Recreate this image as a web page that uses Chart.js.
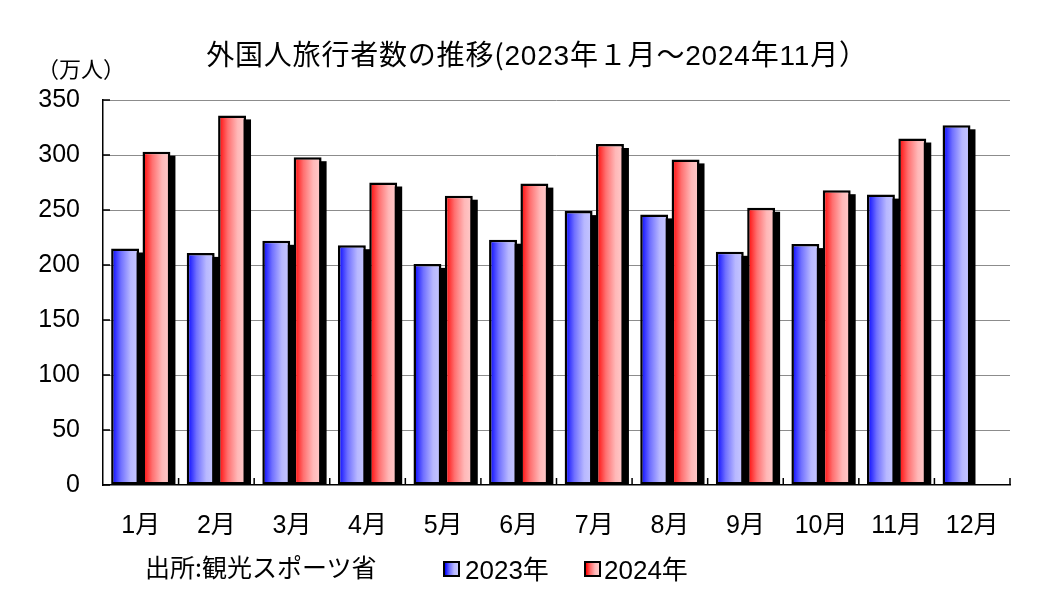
<!DOCTYPE html>
<html lang="ja">
<head>
<meta charset="utf-8">
<script src="https://cdn.jsdelivr.net/npm/chart.js@4.4.1/dist/chart.umd.min.js"></script>
<style>
  body { margin: 0; background: #fff; }
  #wrap { position: relative; width: 1054px; height: 614px; }
  #grafico { position: absolute; left: 0; top: 0; }
  .txt { position: absolute; font-family: "Noto Sans CJK JP", sans-serif; color: #000; white-space: nowrap; line-height: 1; }
  .num { font-family: "Liberation Sans Narrow", "Liberation Sans", sans-serif; }
  .caja { position: absolute; width: 13px; height: 12px; border: 2px solid #000; }
</style>
</head>
<body>
<div id="wrap">
  <canvas id="grafico" width="1054" height="614"></canvas>
  <div class="txt" id="titulo" style="left:537px; top:39px; font-size:28px; letter-spacing:0.8px; transform:translateX(-50%);">外国人旅行者数の推移(<span class="num">2023</span>年１月～<span class="num">2024</span>年<span class="num">11</span>月）</div>
  <div class="txt" style="left:37px; top:56px; font-size:22px;">（万人）</div>
  <div class="txt" style="left:145px; top:554px; font-size:25px;">出所:観光スポーツ省</div>
  <div class="caja" style="left:443px; top:561px; background:linear-gradient(to right, #0000ff, #7070ff 35%, #b8b8ff 70%, #c8c8ff);"></div>
  <div class="txt" style="left:465px; top:555px; font-size:26px;"><span class="num">2023</span>年</div>
  <div class="caja" style="left:584px; top:561px; background:linear-gradient(to right, #ff0000, #ff7070 35%, #ffb8b8 70%, #ffcccc);"></div>
  <div class="txt" style="left:604px; top:555px; font-size:26px;"><span class="num">2024</span>年</div>
</div>
<script>
// Datos (万人)
const meses = ['1月', '2月', '3月', '4月', '5月', '6月', '7月', '8月', '9月', '10月', '11月', '12月'];
const visitantes2023 = [215, 211, 222, 218, 201, 223, 249, 246, 212, 219, 264, 327];
const visitantes2024 = [303, 336, 298, 275, 263, 274, 310, 296, 252, 268, 315, null];
const ejeYMax = 350;
const ejeYPaso = 50;

// Degradados horizontales de cada serie
const degradados = [
    [[0, '#0000ff'], [0.35, '#7070ff'], [0.7, '#b8b8ff'], [1, '#c8c8ff']],
    [[0, '#ff0000'], [0.35, '#ff7070'], [0.7, '#ffb8b8'], [1, '#ffcccc']]
];

// Sombra negra y degradado por barra
const sombraYDegradado = {
    id: 'sombraYDegradado',
    beforeDatasetDraw(chart, args) {
        const { ctx, chartArea } = chart;
        const colores = degradados[args.index];
        ctx.save();
        ctx.beginPath();
        ctx.rect(chartArea.left, chartArea.top, chartArea.right - chartArea.left, chartArea.bottom - chartArea.top);
        ctx.clip();
        ctx.fillStyle = '#000';
        args.meta.data.forEach(barra => {
            if (barra.skip || isNaN(barra.y)) return;
            const { x, y, base, width } = barra.getProps(['x', 'y', 'base', 'width'], true);
            const izq = x - width / 2;
            ctx.fillRect(izq + 5, y + 4, width, base - y);
            const g = ctx.createLinearGradient(izq, 0, izq + width, 0);
            colores.forEach(([p, c]) => g.addColorStop(p, c));
            barra.options = Object.assign({}, barra.options, { backgroundColor: g });
        });
        ctx.restore();
    },
    afterDraw(chart) {
        // Marcas cortas hacia dentro del área
        const { ctx, chartArea, scales } = chart;
        ctx.save();
        ctx.strokeStyle = '#000';
        ctx.lineWidth = 1.5;
        ctx.beginPath();
        for (let v = 0; v <= ejeYMax; v += ejeYPaso) {
            const py = scales.y.getPixelForValue(v);
            ctx.moveTo(chartArea.left, py);
            ctx.lineTo(chartArea.left + 7, py);
        }
        const mitad = (scales.x.getPixelForValue(1) - scales.x.getPixelForValue(0)) / 2;
        meses.forEach((m, i) => {
            const px = scales.x.getPixelForValue(i) + mitad;
            ctx.moveTo(px, chartArea.bottom);
            ctx.lineTo(px, chartArea.bottom - 7);
        });
        ctx.stroke();
        ctx.restore();
    }
};

const ctx = document.getElementById('grafico').getContext('2d');
new Chart(ctx, {
    type: 'bar',
    data: {
        labels: meses,
        datasets: [
            {
                label: '2023年',
                data: visitantes2023,
                backgroundColor: '#8080ff',
                borderColor: '#000',
                borderWidth: 2.5,
                borderSkipped: false
            },
            {
                label: '2024年',
                data: visitantes2024,
                backgroundColor: '#ff8080',
                borderColor: '#000',
                borderWidth: 2.5,
                borderSkipped: false
            }
        ]
    },
    options: {
        responsive: false,
        animation: false,
        devicePixelRatio: 1,
        categoryPercentage: 0.83,
        barPercentage: 0.89,
        layout: { padding: { left: 0, top: 100, right: 44, bottom: 0 } },
        plugins: {
            legend: { display: false },
            title: { display: false },
            tooltip: { enabled: false }
        },
        scales: {
            x: {
                grid: { display: false },
                border: { display: true, color: '#000', width: 1.5 },
                ticks: {
                    color: '#000',
                    padding: 18,
                    font: { family: '"Liberation Sans", "Noto Sans CJK JP"', size: 25 }
                },
                afterFit(escala) { escala.height = 129; }
            },
            y: {
                min: 0,
                max: ejeYMax,
                ticks: {
                    stepSize: ejeYPaso,
                    color: '#000',
                    padding: 23,
                    font: { family: '"Liberation Sans"', size: 25 }
                },
                grid: {
                    color: c => c.tick && c.tick.value === 0 ? 'rgba(0,0,0,0)' : '#8c8c8c',
                    lineWidth: 1,
                    drawTicks: false
                },
                border: { display: true, color: '#000', width: 1.5 },
                afterFit(escala) { escala.width = 103; }
            }
        }
    },
    plugins: [sombraYDegradado]
});
</script>
</body>
</html>
